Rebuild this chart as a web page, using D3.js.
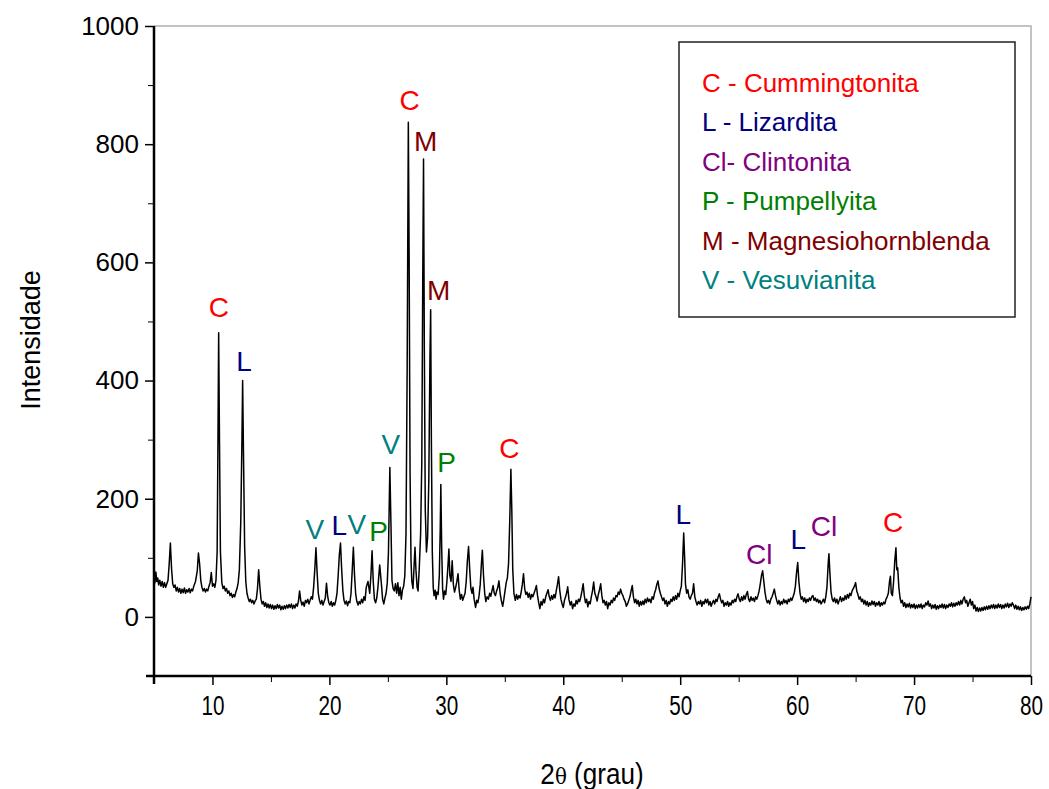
<!doctype html>
<html lang="pt">
<head>
<meta charset="utf-8">
<script src="https://d3js.org/d3.v7.min.js"></script>
<style>
  body { margin: 0; background: #fff; }
  svg text { font-family: "Liberation Sans", Arial, sans-serif; }
</style>
</head>
<body>
<div id="chart"></div>
<script>
// difratograma (2theta, intensidade), em trechos
var trecho05a13 = [[5.0,70],[5.08,58],[5.16,76],[5.24,60],[5.32,66],[5.4,54],[5.5,62],[5.6,52],[5.7,60],[5.8,50],[5.9,58],[6.0,50],[6.1,56],[6.2,62],[6.3,90],[6.4,125],[6.5,82],[6.6,56],[6.7,50],[6.8,54],[6.9,44],[7.0,50],[7.1,42],[7.2,48],[7.3,40],[7.4,47],[7.5,41],[7.6,49],[7.7,40],[7.8,46],[7.9,42],[8.0,48],[8.1,41],[8.2,47],[8.3,44],[8.4,52],[8.55,60],[8.7,78],[8.8,108],[8.9,90],[9.0,62],[9.1,50],[9.2,44],[9.3,48],[9.4,42],[9.5,47],[9.6,44],[9.7,52],[9.8,58],[9.9,75],[10.0,52],[10.1,56],[10.2,50],[10.3,62],[10.4,110],[10.47,300],[10.53,481],[10.6,300],[10.68,110],[10.8,58],[10.9,48],[11.0,52],[11.1,44],[11.2,48],[11.3,40],[11.4,44],[11.5,36],[11.6,40],[11.7,33],[11.8,38],[11.9,34],[12.0,42],[12.1,48],[12.2,58],[12.3,80],[12.42,160],[12.52,300],[12.58,400],[12.65,280],[12.75,120],[12.85,60],[12.95,40]];

var trecho13a25 = [[13.05,32],[13.15,26],[13.25,30],[13.35,24],[13.45,28],[13.55,22],[13.65,27],[13.75,30],[13.85,48],[13.95,80],[14.05,52],[14.15,30],[14.25,22],[14.35,26],[14.45,18],[14.55,24],[14.65,16],[14.75,22],[14.85,15],[14.95,21],[15.05,14],[15.15,20],[15.25,13],[15.35,19],[15.45,14],[15.55,21],[15.65,15],[15.75,20],[15.85,12],[15.95,18],[16.05,13],[16.15,19],[16.25,14],[16.35,20],[16.45,15],[16.55,21],[16.65,16],[16.75,22],[16.85,14],[16.95,20],[17.05,15],[17.15,22],[17.25,18],[17.35,26],[17.45,44],[17.55,28],[17.65,20],[17.75,25],[17.85,18],[17.95,28],[18.05,24],[18.15,30],[18.25,22],[18.35,28],[18.45,34],[18.55,30],[18.65,50],[18.75,80],[18.85,117],[18.95,75],[19.05,40],[19.15,28],[19.25,22],[19.35,28],[19.45,20],[19.55,26],[19.65,32],[19.75,57],[19.85,35],[19.95,24],[20.05,20],[20.15,26],[20.25,18],[20.35,24],[20.45,20],[20.55,28],[20.65,40],[20.75,70],[20.85,105],[20.95,125],[21.05,80],[21.15,45],[21.25,28],[21.35,22],[21.45,27],[21.55,19],[21.65,26],[21.75,24],[21.85,40],[21.95,78],[22.05,118],[22.15,70],[22.25,38],[22.35,26],[22.45,20],[22.55,26],[22.65,22],[22.75,30],[22.85,24],[22.95,34],[23.05,28],[23.15,50],[23.3,60],[23.45,40],[23.55,70],[23.65,112],[23.75,60],[23.85,30],[23.95,24],[24.05,32],[24.15,50],[24.3,88],[24.45,55],[24.55,30],[24.65,22],[24.75,32],[24.85,40],[24.95,58],[25.05,110],[25.17,253],[25.27,150],[25.35,62],[25.45,48]];

var trecho25a31 = [[25.55,44],[25.65,56],[25.75,40],[25.85,58],[25.95,36],[26.05,50],[26.15,30],[26.25,46],[26.35,52],[26.45,70],[26.55,140],[26.65,420],[26.75,837],[26.82,600],[26.9,240],[26.98,95],[27.05,60],[27.15,48],[27.25,90],[27.32,118],[27.4,80],[27.5,50],[27.58,44],[27.68,80],[27.8,140],[27.9,260],[27.98,560],[28.05,775],[28.12,450],[28.2,180],[28.3,110],[28.4,135],[28.5,230],[28.6,440],[28.66,520],[28.72,300],[28.8,110],[28.88,50],[28.95,36],[29.05,45],[29.12,30],[29.2,42],[29.3,38],[29.4,70],[29.48,150],[29.53,224],[29.6,120],[29.68,48],[29.76,30],[29.85,44],[29.95,38],[30.05,60],[30.15,90],[30.22,115],[30.3,70],[30.4,60],[30.5,95],[30.6,55],[30.7,42],[30.8,50],[30.9,60],[31.0,73],[31.1,45],[31.2,30],[31.3,38],[31.4,28],[31.5,34]];

var trecho31a46 = [[31.6,40],[31.7,60],[31.8,95],[31.9,119],[32.0,80],[32.1,48],[32.2,40],[32.28,50],[32.38,30],[32.5,16],[32.6,28],[32.7,24],[32.8,36],[32.9,55],[33.0,90],[33.08,113],[33.18,70],[33.28,40],[33.38,26],[33.48,34],[33.6,30],[33.7,40],[33.8,35],[33.9,44],[34.0,53],[34.1,40],[34.2,36],[34.3,44],[34.4,50],[34.5,61],[34.6,40],[34.7,28],[34.82,18],[34.92,30],[35.02,44],[35.12,58],[35.22,66],[35.32,90],[35.42,160],[35.52,250],[35.6,180],[35.68,80],[35.78,40],[35.9,28],[36.0,38],[36.1,30],[36.2,36],[36.3,32],[36.4,42],[36.5,55],[36.6,73],[36.7,48],[36.8,38],[36.9,42],[37.0,33],[37.1,40],[37.2,30],[37.3,38],[37.4,34],[37.5,40],[37.6,46],[37.7,53],[37.8,36],[37.9,24],[38.0,14],[38.1,26],[38.2,20],[38.3,30],[38.4,24],[38.5,34],[38.6,40],[38.7,46],[38.8,34],[38.9,28],[39.0,36],[39.1,30],[39.2,38],[39.3,32],[39.4,44],[39.5,55],[39.6,68],[39.7,45],[39.8,30],[39.9,22],[40.0,16],[40.1,28],[40.2,34],[40.3,42],[40.38,51],[40.48,30],[40.6,20],[40.7,26],[40.8,14],[40.9,22],[41.0,18],[41.1,28],[41.2,22],[41.3,30],[41.4,26],[41.5,34],[41.6,44],[41.7,56],[41.8,36],[41.9,24],[42.0,30],[42.1,17],[42.2,26],[42.3,22],[42.4,34],[42.5,44],[42.6,59],[42.7,40],[42.8,34],[42.9,27],[43.0,38],[43.1,46],[43.2,56],[43.3,36],[43.4,24],[43.5,28],[43.6,20],[43.7,26],[43.8,14],[43.9,24],[44.0,20],[44.1,28],[44.2,24],[44.3,32],[44.4,28],[44.5,36],[44.6,34],[44.7,42],[44.8,38],[44.9,47],[45.0,40],[45.1,36],[45.2,30],[45.3,26],[45.4,18],[45.5,22],[45.6,28],[45.7,34],[45.8,44],[45.9,53],[46.0,34],[46.1,24]];

var trecho46a63 = [[46.2,30],[46.3,22],[46.4,28],[46.5,18],[46.6,26],[46.7,20],[46.8,27],[46.9,21],[47.0,30],[47.1,24],[47.2,32],[47.3,26],[47.4,30],[47.5,24],[47.6,34],[47.7,30],[47.8,40],[47.9,46],[48.0,55],[48.1,61],[48.2,48],[48.3,40],[48.4,34],[48.5,28],[48.6,32],[48.7,22],[48.8,28],[48.9,18],[49.0,26],[49.1,22],[49.2,30],[49.3,26],[49.4,34],[49.5,28],[49.6,36],[49.7,30],[49.8,40],[49.9,34],[50.0,44],[50.1,52],[50.2,90],[50.3,142],[50.38,100],[50.45,56],[50.55,40],[50.65,46],[50.75,34],[50.85,30],[50.95,36],[51.05,40],[51.15,56],[51.25,34],[51.35,26],[51.45,20],[51.55,26],[51.65,22],[51.75,28],[51.85,18],[51.95,26],[52.05,22],[52.15,30],[52.25,24],[52.35,30],[52.45,20],[52.55,26],[52.65,18],[52.75,24],[52.85,28],[52.95,22],[53.05,30],[53.15,26],[53.25,34],[53.35,39],[53.45,30],[53.55,24],[53.65,28],[53.75,18],[53.85,24],[53.95,20],[54.05,26],[54.15,18],[54.25,24],[54.35,20],[54.45,28],[54.55,24],[54.65,30],[54.75,26],[54.85,34],[54.95,39],[55.05,30],[55.15,26],[55.25,34],[55.35,28],[55.45,36],[55.55,30],[55.65,38],[55.75,43],[55.85,30],[55.95,26],[56.05,34],[56.15,28],[56.25,32],[56.35,26],[56.45,34],[56.55,30],[56.65,36],[56.75,44],[56.85,56],[56.95,70],[57.05,78],[57.15,60],[57.25,42],[57.35,30],[57.45,24],[57.55,28],[57.65,22],[57.75,30],[57.85,34],[57.95,40],[58.05,47],[58.15,36],[58.25,28],[58.35,22],[58.45,28],[58.55,20],[58.65,26],[58.75,22],[58.85,30],[58.95,24],[59.05,28],[59.15,22],[59.25,30],[59.35,26],[59.45,32],[59.55,28],[59.65,34],[59.75,40],[59.85,52],[59.95,75],[60.05,92],[60.15,60],[60.25,40],[60.35,30],[60.45,34],[60.55,26],[60.65,32],[60.75,24],[60.85,30],[60.95,26],[61.05,32],[61.15,28],[61.25,34],[61.35,36],[61.45,28],[61.55,32],[61.65,26],[61.75,30],[61.85,24],[61.95,28],[62.05,22],[62.15,26],[62.25,30],[62.35,24],[62.45,34],[62.55,50],[62.65,88],[62.72,107],[62.8,75],[62.9,42],[63.0,30]];

var trecho63a80 = [[63.1,26],[63.2,32],[63.3,24],[63.4,30],[63.5,22],[63.6,28],[63.7,34],[63.8,26],[63.9,32],[64.0,28],[64.1,36],[64.2,30],[64.3,38],[64.4,32],[64.5,40],[64.6,36],[64.7,44],[64.8,48],[64.9,52],[65.0,58],[65.1,44],[65.2,38],[65.3,30],[65.4,34],[65.5,26],[65.6,30],[65.7,22],[65.8,28],[65.9,20],[66.0,26],[66.1,18],[66.2,24],[66.3,20],[66.4,27],[66.5,21],[66.6,26],[66.7,18],[66.8,24],[66.9,20],[67.0,26],[67.1,18],[67.2,24],[67.3,20],[67.4,25],[67.5,22],[67.6,30],[67.7,34],[67.8,40],[67.9,60],[67.98,69],[68.05,40],[68.15,36],[68.25,60],[68.35,95],[68.45,117],[68.52,80],[68.6,83],[68.7,50],[68.8,32],[68.9,24],[69.0,28],[69.1,18],[69.2,24],[69.3,16],[69.4,22],[69.5,17],[69.6,23],[69.7,15],[69.8,21],[69.9,16],[70.0,22],[70.1,14],[70.2,20],[70.3,15],[70.4,21],[70.5,16],[70.6,22],[70.7,14],[70.8,20],[70.9,17],[71.0,24],[71.1,20],[71.2,27],[71.3,18],[71.4,22],[71.5,14],[71.6,20],[71.7,15],[71.8,21],[71.9,13],[72.0,19],[72.1,14],[72.2,20],[72.3,16],[72.4,22],[72.5,15],[72.6,21],[72.7,14],[72.8,20],[72.9,16],[73.0,22],[73.1,18],[73.2,24],[73.3,17],[73.4,23],[73.5,18],[73.6,24],[73.7,20],[73.8,26],[73.9,20],[74.0,28],[74.1,22],[74.2,30],[74.3,34],[74.4,24],[74.5,28],[74.6,18],[74.7,24],[74.8,30],[74.9,20],[75.0,26],[75.1,14],[75.2,20],[75.3,10],[75.4,16],[75.5,9],[75.6,15],[75.7,10],[75.8,16],[75.9,11],[76.0,17],[76.1,12],[76.2,18],[76.3,13],[76.4,19],[76.5,14],[76.6,20],[76.7,15],[76.8,21],[76.9,14],[77.0,20],[77.1,15],[77.2,22],[77.3,16],[77.4,21],[77.5,14],[77.6,20],[77.7,15],[77.8,22],[77.9,17],[78.0,23],[78.1,16],[78.2,22],[78.3,18],[78.4,24],[78.5,20],[78.6,14],[78.7,20],[78.8,13],[78.9,18],[79.0,12],[79.1,17],[79.2,11],[79.3,16],[79.4,12],[79.5,17],[79.6,13],[79.7,18],[79.8,14],[79.9,22],[80.0,34]];

// identificacao dos picos: letra, posicao 2theta e intensidade onde fica a letra
var picoLetra = ["C","L","V","L","V","P","V","C","M","M","P","C","L","Cl","L","Cl","C"];
var picoTheta = [10.55,12.7,18.75,20.85,22.35,24.2,25.25,26.87,28.23,29.35,30.03,35.4,50.27,56.76,60.1,62.3,68.2];
var picoY     = [508,417,132,139,141,129,275,858,788,536,246,269,158,90,115,137,144];

// legenda
var faseCodigo = ["C","L","Cl","P","M","V"];
var faseNome = ["C - Cummingtonita","L - Lizardita","Cl- Clintonita","P - Pumpellyita","M - Magnesiohornblenda","V - Vesuvianita"];
var faseCor = ["#ff0000","#000080","#800080","#008000","#800000","#008080"];

var xTicks = [10,20,30,40,50,60,70,80];
var xMinor = [5,15,25,35,45,55,65,75];
var yTicks = [0,200,400,600,800,1000];
var yMinor = [-100,100,300,500,700,900];

var width = 1049, height = 789;
var margin = {top: 26, right: 18, bottom: 113, left: 154};

var svg = d3.select("#chart").append("svg")
  .attr("width", width)
  .attr("height", height);

var x = d3.scaleLinear().domain([5, 80]).range([margin.left, width - margin.right]);
var y = d3.scaleLinear().domain([-100, 1000]).range([height - margin.bottom, margin.top]);

var cor = d3.scaleOrdinal().domain(faseCodigo).range(faseCor);

// moldura cinza (topo e direita)
svg.append("path")
  .attr("d", "M" + x(5) + "," + y(1000) + "H" + x(80) + "V" + y(-100))
  .attr("fill", "none")
  .attr("stroke", "#b0b0b0")
  .attr("stroke-width", 1.5);

// curva
var dados = trecho05a13.concat(trecho13a25, trecho25a31, trecho31a46, trecho46a63, trecho63a80);
var linha = d3.line()
  .x(function(d) { return x(d[0]); })
  .y(function(d) { return y(d[1]); });

svg.append("path")
  .datum(dados)
  .attr("d", linha)
  .attr("fill", "none")
  .attr("stroke", "#000")
  .attr("stroke-width", 1.5)
  .attr("stroke-linejoin", "round");

// eixo x
var gx = svg.append("g")
  .attr("transform", "translate(0," + y(-100) + ")")
  .call(d3.axisBottom(x).tickValues(xTicks).tickSize(9).tickPadding(10).tickFormat(d3.format("d")));
svg.append("g")
  .attr("transform", "translate(0," + y(-100) + ")")
  .call(d3.axisBottom(x).tickValues(xMinor).tickSize(6).tickFormat(""))
  .select(".domain").remove();
gx.select(".domain").attr("stroke-width", 2.5).attr("d", "M" + (x(5) - 8) + ",0H" + x(80));
gx.selectAll(".tick line").attr("stroke-width", 1.5);
gx.selectAll(".tick text")
  .attr("font-size", 28)
  .attr("transform", "scale(0.74,1)")
  .attr("fill", "#000");

// eixo y
var gy = svg.append("g")
  .attr("transform", "translate(" + x(5) + ",0)")
  .call(d3.axisLeft(y).tickValues(yTicks).tickSize(9).tickPadding(6).tickFormat(d3.format("d")));
svg.append("g")
  .attr("transform", "translate(" + x(5) + ",0)")
  .call(d3.axisLeft(y).tickValues(yMinor).tickSize(6).tickFormat(""))
  .select(".domain").remove();
gy.select(".domain").attr("stroke-width", 2.5).attr("d", "M0," + y(1000) + "V" + (y(-100) + 8));
gy.selectAll(".tick line").attr("stroke-width", 1.5);
gy.selectAll(".tick text")
  .attr("font-size", 26)
  .attr("fill", "#000");

// titulos dos eixos
svg.append("text")
  .attr("transform", "rotate(-90)")
  .attr("x", -340)
  .attr("y", 40)
  .style("text-anchor", "middle")
  .attr("font-size", 27)
  .text("Intensidade");

var tx = svg.append("text")
  .attr("transform", "translate(592,784) scale(0.9,1)")
  .style("text-anchor", "middle")
  .attr("font-size", 29);
tx.append("tspan").text("2");
tx.append("tspan").attr("font-family", "'DejaVu Serif', serif").attr("font-size", 22).text("\u03b8");
tx.append("tspan").text(" (grau)");

// letras dos picos
svg.selectAll(".pico")
  .data(picoLetra)
  .enter()
  .append("text")
  .attr("class", "pico")
  .attr("x", function(d, i) { return x(picoTheta[i]); })
  .attr("y", function(d, i) { return y(picoY[i]); })
  .style("text-anchor", "middle")
  .attr("font-size", 28)
  .attr("fill", function(d) { return cor(d); })
  .text(function(d) { return d; });

// legenda
svg.append("rect")
  .attr("x", 679)
  .attr("y", 42)
  .attr("width", 336)
  .attr("height", 275)
  .attr("fill", "#fff")
  .attr("stroke", "#222")
  .attr("stroke-width", 1.5);

svg.selectAll(".leg")
  .data(faseNome)
  .enter()
  .append("text")
  .attr("class", "leg")
  .attr("x", 702)
  .attr("y", function(d, i) { return 92 + i * 39.4; })
  .attr("font-size", 26)
  .attr("fill", function(d, i) { return faseCor[i]; })
  .text(function(d) { return d; });
</script>
</body>
</html>
